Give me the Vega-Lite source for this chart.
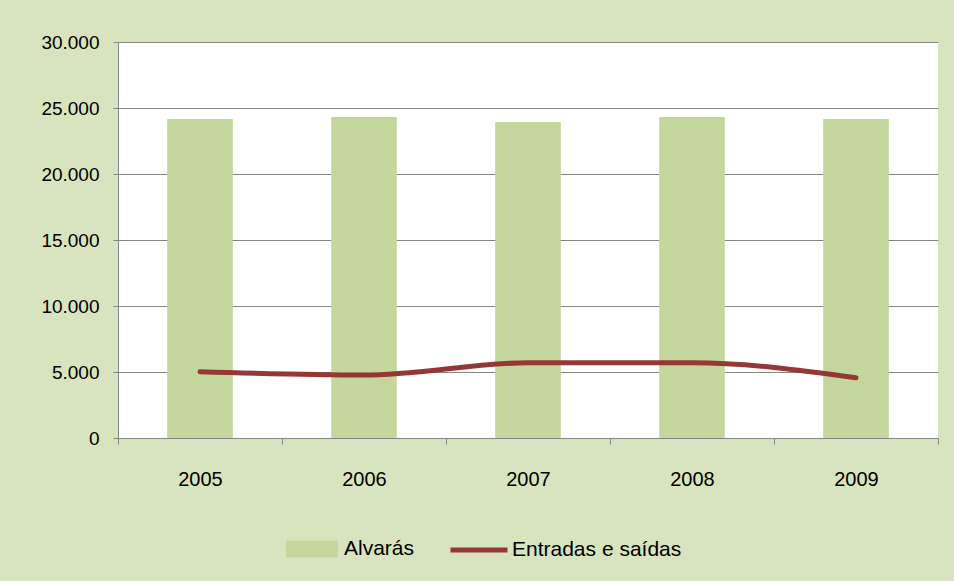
{
  "$schema": "https://vega.github.io/schema/vega-lite/v6.json",
  "width": 820,
  "height": 396,
  "autosize": {"type": "none"},
  "padding": {"left": 118, "top": 42, "right": 16, "bottom": 143},
  "background": "#d7e4bd",
  "data": {
    "values": [
      {"year": "2005", "alvaras": 24170, "entradas": 5020},
      {"year": "2006", "alvaras": 24320, "entradas": 4770},
      {"year": "2007", "alvaras": 23940, "entradas": 5700},
      {"year": "2008", "alvaras": 24320, "entradas": 5700},
      {"year": "2009", "alvaras": 24170, "entradas": 4570}
    ]
  },
  "layer": [
    {
      "mark": {"type": "bar", "width": {"band": 0.4}},
      "encoding": {
        "x": {
          "field": "year", "type": "ordinal",
          "scale": {"paddingInner": 0, "paddingOuter": 0},
          "axis": {
            "title": null, "labelAngle": 0, "tickBand": "extent",
            "tickSize": 6, "tickColor": "#868686", "domainColor": "#868686",
            "labelFontSize": 20, "labelPadding": 25, "grid": false
          }
        },
        "y": {
          "field": "alvaras", "type": "quantitative",
          "scale": {"domain": [0, 30000], "nice": false},
          "axis": {
            "title": null, "values": [0, 5000, 10000, 15000, 20000, 25000, 30000],
            "labelExpr": "replace(format(datum.value, ',d'), ',', '.')",
            "grid": true, "gridColor": "#868686", "gridOpacity": 1,
            "tickSize": 5, "tickColor": "#868686", "domainColor": "#868686",
            "labelFontSize": 19, "labelPadding": 14
          }
        },
        "fill": {
          "datum": "Alvarás",
          "scale": {"domain": ["Alvarás"], "range": ["#c3d69b"]},
          "legend": {
            "title": null, "orient": "none", "legendX": 168, "legendY": 481,
            "symbolType": "M-1,-0.327H1V0.327H-1Z", "symbolSize": 2704,
            "symbolStrokeWidth": 0, "symbolOpacity": 1,
            "labelFontSize": 21, "labelOffset": 6, "labelLimit": 400
          }
        }
      }
    },
    {
      "mark": {"type": "line", "strokeWidth": 5, "strokeCap": "round", "interpolate": "monotone"},
      "encoding": {
        "x": {"field": "year", "type": "ordinal"},
        "y": {"field": "entradas", "type": "quantitative"},
        "stroke": {
          "datum": "Entradas e saídas",
          "scale": {"domain": ["Entradas e saídas"], "range": ["#953735"]},
          "legend": {
            "title": null, "orient": "none", "legendX": 330, "legendY": 477,
            "symbolType": "stroke", "symbolSize": 3249, "symbolStrokeWidth": 5,
            "labelFontSize": 21, "labelOffset": 2, "labelLimit": 400
          }
        }
      }
    }
  ],
  "config": {
    "view": {"stroke": null, "fill": "#ffffff"},
    "font": "Liberation Sans",
    "axis": {"labelFont": "Liberation Sans", "labelColor": "#000000"},
    "legend": {"labelFont": "Liberation Sans", "labelColor": "#000000"}
  }
}
